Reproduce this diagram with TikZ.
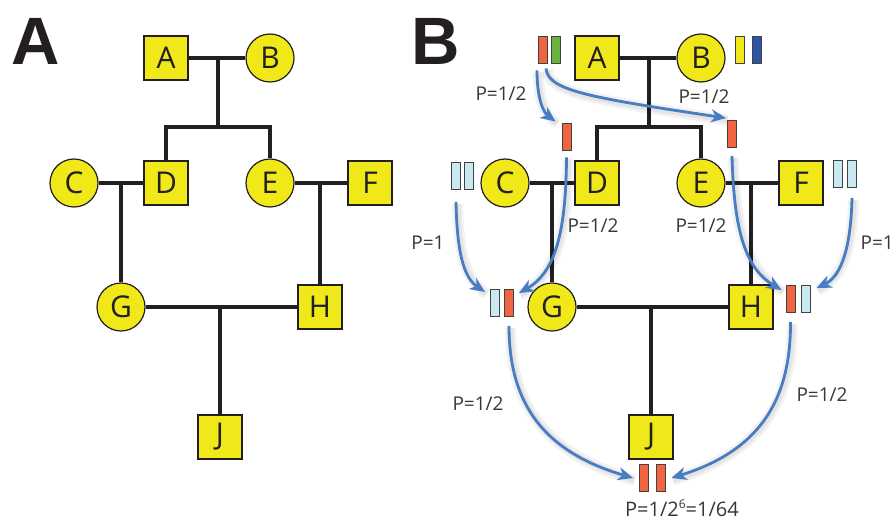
\documentclass[tikz,border=0pt]{standalone}
\usepackage{fontspec}
\setmainfont{Open Sans}
\newfontfamily\panelfont{Liberation Sans}
\usetikzlibrary{arrows.meta}
\definecolor{nodeyellow}{RGB}{240,232,24}
\definecolor{pedblack}{RGB}{35,31,32}
\definecolor{chrred}{RGB}{240,100,65}
\definecolor{chrgreen}{RGB}{106,178,62}
\definecolor{chrblue}{RGB}{45,85,165}
\definecolor{chrlight}{RGB}{200,232,242}
\definecolor{arrblue}{RGB}{72,124,195}
\tikzset{
 sq/.style={draw=pedblack, line width=1.2pt, fill=nodeyellow, minimum size=44pt, inner sep=0pt, font=\fontsize{30}{30}\selectfont, text=pedblack},
 circ/.style={sq, circle, minimum size=48pt},
 ped/.style={draw=pedblack, line width=4.8pt},
 chr/.style={draw=pedblack!85, line width=0.9pt, minimum width=9pt, minimum height=27pt, inner sep=0pt},
 arrshade/.style={preaction={draw=black, opacity=0.05, line width=11pt, -, transform canvas={xshift=1.5pt,yshift=-2pt}},
                  preaction={draw=black, opacity=0.06, line width=6pt, -, transform canvas={xshift=1.5pt,yshift=-2pt}}},
 arr/.style={arrshade, draw=arrblue, line width=2.8pt, -{Stealth[length=15pt,width=13pt,inset=4.5pt]}},
 plab/.style={font=\fontsize{19}{20}\selectfont, text=pedblack!90, inner sep=0pt},
 panel/.style={font=\panelfont\bfseries\fontsize{67}{67}\selectfont, text=pedblack, inner sep=0pt},
}
\begin{document}
\begin{tikzpicture}[x=1pt,y=-1pt]
\useasboundingbox (0,0) rectangle (896,521);
\node[panel] (labA) at (35.5,41) {A};
\node[panel] (labB) at (436,41) {B};
\foreach \p/\dx in {A/0,B/431}{
\begin{scope}[xshift=\dx pt]
 \node[sq]   (\p a) at (166,58) {A};
 \node[circ] (\p b) at (270,58) {B};
 \node[circ] (\p c) at (74,183) {C};
 \node[sq]   (\p d) at (166,183) {D};
 \node[circ] (\p e) at (270,183) {E};
 \node[sq]   (\p f) at (370,183) {F};
 \node[circ] (\p g) at (121,307) {G};
 \node[sq]   (\p h) at (320,307) {H};
 \node[sq]   (\p j) at (220,437) {J};
 \coordinate (\p ab) at (218,58);
 \coordinate (\p sib) at (218,127);
 \coordinate (\p cd) at (121,183);
 \coordinate (\p ef) at (320,183);
 \coordinate (\p gh) at (220,307);
 \draw[ped] (\p a) -- (\p b);
 \draw[ped] (\p ab) -- (\p sib);
 \draw[ped] (\p d) |- (\p sib) -| (\p e);
 \draw[ped] (\p c) -- (\p d);
 \draw[ped] (\p cd) -- (\p g);
 \draw[ped] (\p e) -- (\p f);
 \draw[ped] (\p ef) -- (\p h);
 \draw[ped] (\p g) -- (\p h);
 \draw[ped] (\p gh) -- (\p j);
\end{scope}}
% chromosome bars
\node[chr, fill=chrred]   (ar1) at (543,49.5) {};
\node[chr, fill=chrgreen] (ar2) at (555.5,49.5) {};
\node[chr, fill=nodeyellow] (br1) at (740,49.5) {};
\node[chr, fill=chrblue]  (br2) at (757,49.5) {};
\node[chr, fill=chrred]   (rD) at (566.5,136.5) {};
\node[chr, fill=chrred]   (rE) at (732,134) {};
\node[chr, fill=chrlight] (cb1) at (456,176) {};
\node[chr, fill=chrlight] (cb2) at (469,176) {};
\node[chr, fill=chrlight] (fb1) at (838,174) {};
\node[chr, fill=chrlight] (fb2) at (852,174) {};
\node[chr, fill=chrlight] (gL) at (495,303) {};
\node[chr, fill=chrred]   (gR) at (509,303) {};
\node[chr, fill=chrred]   (hR) at (790.5,299) {};
\node[chr, fill=chrlight] (hL) at (805.5,299) {};
\node[chr, fill=chrred]   (jL) at (644,478) {};
\node[chr, fill=chrred]   (jR) at (660.5,478) {};
% arrows
\draw[arr] ([xshift=-6pt,yshift=-7pt]ar1.south) .. controls (537,100) and (544,113) .. ([xshift=-6pt,yshift=1pt]rD.north west);
\draw[arr] ([xshift=3pt,yshift=-5pt]ar1.south) .. controls (548,90) and (585,97) .. ([xshift=-1pt,yshift=2pt]rE.north west);
\draw[arr] ([yshift=-7pt]rD.south) .. controls (566,230) and (556,272) .. ([xshift=5pt,yshift=-4pt]gR.north east);
\draw[arr] ([yshift=-12pt]cb1.south) .. controls (457,250) and (463,277) .. ([xshift=-5pt,yshift=-3pt]gL.north west);
\draw[arr] ([yshift=-8pt]rE.south) .. controls (734,230) and (745,268) .. ([xshift=-4pt,yshift=-5pt]hR.north west);
\draw[arr] ([yshift=-10pt]fb2.south) .. controls (851,245) and (842,276) .. ([xshift=6pt,yshift=-3pt]hL.north east);
\draw[arr] ([yshift=-9pt]gR.south) .. controls (509,405) and (545,452) .. ([xshift=-6pt]jL.west);
\draw[arr] ([yshift=-9pt]hR.south) .. controls (791,405) and (755,452) .. ([xshift=6pt]jR.east);
% labels
\node[plab] (p1) at (501,94) {P=1/2};
\node[plab] (p2) at (704,97) {P=1/2};
\node[plab] (p3) at (428,243) {P=1};
\node[plab] (p4) at (593,226) {P=1/2};
\node[plab] (p5) at (701,226) {P=1/2};
\node[plab, anchor=east] (p6) at (894,243) {P=1};
\node[plab] (p7) at (478,404) {P=1/2};
\node[plab] (p8) at (822,395) {P=1/2};
\node[plab, font=\fontsize{20}{21}\selectfont] (p9) at (682,508) {P=1/2\raisebox{0.75ex}{\fontsize{12}{12}\selectfont 6}=1/64};
\end{tikzpicture}
\end{document}
